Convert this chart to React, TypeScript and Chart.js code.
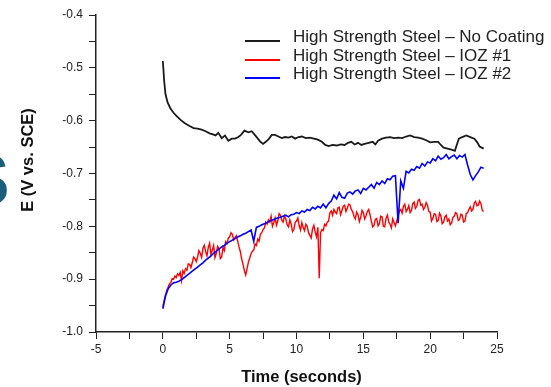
import React, { useEffect, useRef } from "react";
import { Chart, registerables } from "chart.js";

Chart.register(...registerables);

// ---------- text ----------
const SERIES_LABELS = [
  "High Strength Steel – No Coating",
  "High Strength Steel – IOZ #1",
  "High Strength Steel – IOZ #2",
];
const SERIES_COLORS = ["#1a1a1a", "#ff0000", "#0000ff"];
const X_TITLE = "Time (seconds)";
const Y_TITLE = "E (V vs. SCE)";

// ---------- axes ----------
const X_MIN = -5;
const X_MAX = 25;
const X_STEP = 2.5; // minor tick spacing
const X_LABEL_EVERY = 5;
const Y_MIN = -1.0;
const Y_MAX = -0.4;
const Y_STEP = 0.05; // minor tick spacing
const Y_LABEL_EVERY = 0.1;

// ---------- data ----------
// No coating (irregular time samples)
const noCoatingTime = [
  0.0, 0.05, 0.1, 0.2, 0.35, 0.55, 0.8, 1.05, 1.35, 1.65,
  2.0, 2.3, 2.6, 2.9, 3.2, 3.5, 3.75, 3.95, 4.15, 4.4,
  4.65, 4.9, 5.15, 5.4, 5.65, 5.85, 6.1, 6.4, 6.65, 6.85,
  7.05, 7.3, 7.5, 7.75, 7.95, 8.15, 8.4, 8.65, 8.9, 9.15,
  9.4, 9.65, 9.9, 10.15, 10.4, 10.7, 11.0, 11.3, 11.6, 11.9,
  12.15, 12.4, 12.7, 13.0, 13.3, 13.6, 13.85, 14.1, 14.35, 14.6,
  14.85, 15.1, 15.4, 15.7, 15.9, 16.1, 16.4, 16.7, 17.0, 17.3,
  17.6, 17.9, 18.2, 18.5, 18.8, 19.1, 19.4, 19.7, 20.0, 20.3,
  20.6, 20.8, 21.0, 21.3, 21.6, 21.85, 22.0, 22.15, 22.4, 22.7,
  23.0, 23.3, 23.5, 23.7, 23.85, 24.0,
];
const noCoatingE = [
  -0.487, -0.505, -0.525, -0.55, -0.565, -0.576, -0.585, -0.592, -0.599, -0.605,
  -0.61, -0.614, -0.615, -0.617, -0.62, -0.624, -0.626, -0.628, -0.623, -0.633,
  -0.628, -0.638, -0.634, -0.634, -0.631, -0.627, -0.619, -0.622, -0.62, -0.626,
  -0.632, -0.64, -0.644, -0.639, -0.634, -0.627, -0.627, -0.63, -0.633, -0.631,
  -0.632, -0.63, -0.634, -0.631, -0.63, -0.633, -0.632, -0.634, -0.636, -0.64,
  -0.646, -0.648, -0.646, -0.647, -0.645, -0.646, -0.642, -0.64, -0.645, -0.642,
  -0.646, -0.644, -0.642, -0.64, -0.645, -0.638, -0.634, -0.632, -0.631, -0.633,
  -0.632, -0.633, -0.63, -0.628, -0.631, -0.632, -0.634, -0.637, -0.641, -0.64,
  -0.64, -0.646, -0.651, -0.653, -0.655, -0.657, -0.645, -0.634, -0.631, -0.628,
  -0.631, -0.634, -0.64, -0.649, -0.651, -0.653,
];

// IOZ #1 sampled every IOZ1_STEP seconds from t = 0
const IOZ1_STEP = 0.1;
const ioz1E = [
  -0.952, -0.94, -0.93, -0.921, -0.915, -0.909, -0.906, -0.899, -0.9, -0.894,
  -0.897, -0.89, -0.893, -0.887, -0.903, -0.884, -0.889, -0.88, -0.883, -0.871,
  -0.872, -0.878, -0.869, -0.858, -0.861, -0.867, -0.858, -0.846, -0.851, -0.859,
  -0.842, -0.836, -0.848, -0.856, -0.84, -0.832, -0.853, -0.845, -0.836, -0.859,
  -0.851, -0.838, -0.842, -0.861, -0.858, -0.84, -0.846, -0.829, -0.833, -0.822,
  -0.82, -0.812, -0.815, -0.826, -0.822, -0.818, -0.828, -0.839, -0.848, -0.862,
  -0.872, -0.884, -0.892, -0.88, -0.868, -0.86, -0.852, -0.847, -0.845, -0.833,
  -0.836, -0.824, -0.828, -0.815, -0.812, -0.806, -0.803, -0.792, -0.796, -0.788,
  -0.792, -0.781, -0.8, -0.793, -0.784, -0.798, -0.79, -0.776, -0.779, -0.789,
  -0.792, -0.78, -0.786, -0.797, -0.801, -0.788, -0.795, -0.81, -0.806, -0.793,
  -0.79, -0.784, -0.799, -0.807, -0.793, -0.802, -0.808, -0.796, -0.8, -0.812,
  -0.817, -0.822, -0.805, -0.798, -0.811, -0.82, -0.802, -0.898, -0.812, -0.806,
  -0.808, -0.796, -0.799, -0.792, -0.79, -0.774, -0.771, -0.779, -0.768, -0.773,
  -0.776, -0.765, -0.764, -0.778, -0.77, -0.762, -0.76, -0.772, -0.766, -0.758,
  -0.759, -0.768, -0.772, -0.781, -0.786, -0.773, -0.778, -0.791, -0.783, -0.77,
  -0.774, -0.786, -0.78, -0.772, -0.768, -0.778, -0.79, -0.801, -0.798, -0.787,
  -0.785, -0.799, -0.795, -0.781, -0.782, -0.8, -0.801, -0.785, -0.779, -0.792,
  -0.796, -0.803, -0.786, -0.793, -0.799, -0.79, -0.78, -0.771, -0.768, -0.775,
  -0.762, -0.758, -0.772, -0.768, -0.761, -0.774, -0.77, -0.757, -0.754, -0.766,
  -0.762, -0.751, -0.749, -0.76, -0.758, -0.768, -0.764, -0.755, -0.76, -0.772,
  -0.773, -0.79, -0.785, -0.776, -0.777, -0.791, -0.789, -0.775, -0.78, -0.795,
  -0.792, -0.782, -0.779, -0.79, -0.786, -0.797, -0.794, -0.783, -0.781, -0.774,
  -0.776, -0.789, -0.787, -0.777, -0.779, -0.792, -0.79, -0.776, -0.774, -0.768,
  -0.763, -0.771, -0.768, -0.756, -0.753, -0.761, -0.76, -0.752, -0.757, -0.77,
  -0.772,
];

// IOZ #2 sampled every IOZ2_STEP seconds from t = 0
const IOZ2_STEP = 0.2;
const ioz2E = [
  -0.956, -0.932, -0.918, -0.911, -0.907, -0.906, -0.904, -0.901, -0.897, -0.893,
  -0.889, -0.885, -0.881, -0.877, -0.873, -0.869, -0.864, -0.86, -0.856, -0.851,
  -0.847, -0.843, -0.839, -0.836, -0.832, -0.829, -0.826, -0.823, -0.82, -0.818,
  -0.815, -0.813, -0.81, -0.807, -0.828, -0.802, -0.8, -0.797, -0.795, -0.793,
  -0.79, -0.788, -0.786, -0.784, -0.783, -0.781, -0.779, -0.782, -0.778, -0.777,
  -0.774, -0.776, -0.771, -0.773, -0.768, -0.77, -0.764, -0.767, -0.762, -0.765,
  -0.758, -0.765, -0.757, -0.752, -0.741, -0.748, -0.736, -0.745, -0.747, -0.737,
  -0.735, -0.739, -0.733, -0.731, -0.738, -0.728, -0.731, -0.726, -0.721, -0.728,
  -0.717, -0.721, -0.714, -0.719, -0.71, -0.712, -0.705, -0.704, -0.794, -0.714,
  -0.728, -0.696, -0.699, -0.692, -0.694, -0.687, -0.69, -0.681, -0.686, -0.678,
  -0.68, -0.672, -0.676, -0.667, -0.673, -0.67, -0.664, -0.672, -0.668, -0.665,
  -0.672, -0.666, -0.669, -0.664, -0.684, -0.702, -0.712, -0.704, -0.697, -0.688,
  -0.69,
];

const FONT = "'Liberation Sans', Arial, Helvetica, sans-serif";
const W = 551;
const H = 387;

const isMultiple = (v: number, step: number) =>
  Math.abs(v / step - Math.round(v / step)) < 1e-6;

export default function App() {
  const ref = useRef<HTMLCanvasElement | null>(null);

  useEffect(() => {
    const canvas = ref.current;
    if (!canvas) return;
    const toPoints = (ts: number[], es: number[]) =>
      es.map((e, i) => ({ x: ts[i], y: e }));
    const sampled = (es: number[], step: number) =>
      es.map((e, i) => ({ x: i * step, y: e }));

    const chart = new Chart(canvas, {
      type: "line",
      data: {
        datasets: [
          {
            label: SERIES_LABELS[0],
            data: toPoints(noCoatingTime, noCoatingE),
            borderColor: SERIES_COLORS[0],
            borderWidth: 1.8,
            order: 2,
          },
          {
            label: SERIES_LABELS[1],
            data: sampled(ioz1E, IOZ1_STEP),
            borderColor: SERIES_COLORS[1],
            borderWidth: 1.4,
            order: 1,
          },
          {
            label: SERIES_LABELS[2],
            data: sampled(ioz2E, IOZ2_STEP),
            borderColor: SERIES_COLORS[2],
            borderWidth: 1.6,
            order: 0,
          },
        ],
      },
      options: {
        animation: false,
        responsive: false,
        devicePixelRatio: 1,
        layout: { padding: { left: 0, top: 15, right: 54, bottom: 0 } },
        plugins: { legend: { display: false }, tooltip: { enabled: false } },
        elements: {
          point: { radius: 0, hoverRadius: 0 },
          line: { tension: 0, fill: false },
        },
        scales: {
          x: {
            type: "linear",
            min: X_MIN,
            max: X_MAX,
            afterFit: (s: any) => {
              s.height = 55;
            },
            ticks: {
              stepSize: X_STEP,
              autoSkip: false,
              maxRotation: 0,
              padding: 3,
              color: "#222",
              font: { family: FONT, size: 12 },
              callback: (v: any) =>
                isMultiple(Number(v), X_LABEL_EVERY) ? String(Math.round(Number(v))) : "",
            },
            grid: {
              drawOnChartArea: false,
              drawTicks: true,
              tickLength: 7,
              tickColor: "#222",
              tickWidth: 1,
            },
            border: { display: true, color: "#222", width: 1.5 },
          },
          y: {
            type: "linear",
            min: Y_MIN,
            max: Y_MAX,
            afterFit: (s: any) => {
              s.width = 96;
            },
            ticks: {
              stepSize: Y_STEP,
              autoSkip: false,
              padding: 6,
              color: "#222",
              font: { family: FONT, size: 12 },
              callback: (v: any) =>
                isMultiple(Number(v), Y_LABEL_EVERY) ? Number(v).toFixed(1) : "",
            },
            grid: {
              drawOnChartArea: false,
              drawTicks: true,
              tickLength: 7,
              tickColor: "#222",
              tickWidth: 1,
            },
            border: { display: true, color: "#222", width: 1.5 },
          },
        },
      },
    } as any);
    return () => chart.destroy();
  }, []);

  const legendFont = 17;
  const titleFont = 16.5;

  return (
    <div
      style={{
        position: "fixed",
        left: 0,
        top: 0,
        width: W,
        height: H,
        background: "#fff",
        overflow: "hidden",
        fontFamily: FONT,
      }}
    >
      <canvas
        ref={ref}
        width={W}
        height={H}
        style={{ position: "absolute", left: 0, top: 0, width: W, height: H }}
      />

      {/* cropped slide letter at left edge */}
      <span
        style={{
          position: "absolute",
          left: -39,
          top: 143,
          fontSize: 73,
          lineHeight: "73px",
          fontWeight: "bold",
          color: "#1b5e7b",
          whiteSpace: "nowrap",
        }}
      >
        S
      </span>

      {/* y-axis title */}
      <div
        style={{
          position: "absolute",
          left: 27,
          top: 160,
          transform: "translate(-50%, -50%) rotate(-90deg)",
          fontSize: titleFont,
          lineHeight: `${titleFont}px`,
          fontWeight: "bold",
          color: "#111",
          whiteSpace: "nowrap",
        }}
      >
        {Y_TITLE}
      </div>

      {/* x-axis title */}
      <div
        style={{
          position: "absolute",
          left: 301.5,
          top: 368,
          transform: "translateX(-50%)",
          fontSize: titleFont,
          lineHeight: `${titleFont}px`,
          fontWeight: "bold",
          color: "#111",
          whiteSpace: "nowrap",
        }}
      >
        {X_TITLE}
      </div>

      {/* legend */}
      {SERIES_LABELS.map((label, i) => (
        <React.Fragment key={label}>
          <div
            style={{
              position: "absolute",
              left: 245,
              top: 40 + 18.5 * i,
              width: 35,
              height: 2,
              background: SERIES_COLORS[i],
            }}
          />
          <div
            style={{
              position: "absolute",
              left: 293,
              top: 28 + 18.5 * i,
              fontSize: legendFont,
              lineHeight: `${legendFont}px`,
              color: "#222",
              whiteSpace: "nowrap",
            }}
          >
            {label}
          </div>
        </React.Fragment>
      ))}
    </div>
  );
}
